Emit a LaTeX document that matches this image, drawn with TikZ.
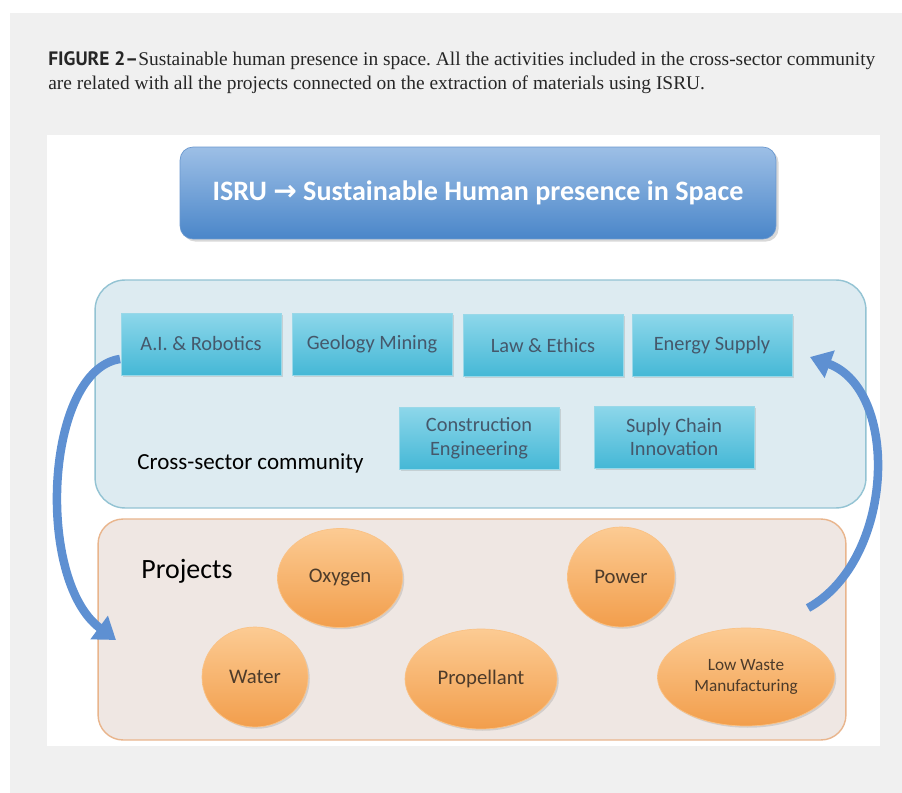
\documentclass[tikz,border=0pt]{standalone}
\usepackage{fontspec}
\setmainfont{Carlito}
\newfontfamily\capserif{Liberation Serif}
\newfontfamily\capsans{PT Sans}
\newfontfamily\arrowfont{DejaVu Sans}
\usetikzlibrary{arrows.meta, shapes.geometric, shadows, positioning}
\frenchspacing

\definecolor{pagegray}{HTML}{F0F0F0}
\definecolor{titletop}{HTML}{9DBFE6}
\definecolor{titlebot}{HTML}{4A86C9}
\definecolor{titleedge}{HTML}{6A98CF}
\definecolor{crossfill}{HTML}{DDEBF1}
\definecolor{crossedge}{HTML}{93C3D3}
\definecolor{tiletop}{HTML}{8DD7EA}
\definecolor{tilebot}{HTML}{45B8D6}
\definecolor{tiletext}{HTML}{45586B}
\definecolor{projfill}{HTML}{EFE7E3}
\definecolor{projedge}{HTML}{E9B58C}
\definecolor{eggtop}{HTML}{FCCB93}
\definecolor{eggbot}{HTML}{F29E4C}
\definecolor{eggtext}{HTML}{4D3B2A}
\definecolor{loopblue}{HTML}{5E90D2}

\tikzset{
  titlebox/.style={draw=titleedge, top color=titletop, bottom color=titlebot, rounded corners=0.26cm,
    minimum width=11.92cm, minimum height=1.84cm, text=white, font=\fontsize{16}{19}\selectfont\bfseries,
    drop shadow={opacity=0.3, shadow xshift=1.5pt, shadow yshift=-1.5pt}},
  crossbox/.style={draw=crossedge, fill=crossfill, rounded corners=0.6cm, line width=0.8pt,
    minimum width=15.42cm, minimum height=4.56cm},
  projbox/.style={draw=projedge, fill=projfill, rounded corners=0.5cm, line width=0.8pt,
    minimum width=14.96cm, minimum height=4.42cm},
  tile/.style={draw=tilebot!55!white, top color=tiletop, bottom color=tilebot, minimum width=3.2cm,
    minimum height=1.24cm, align=center, text=tiletext, font=\fontsize{11.6}{13.5}\selectfont,
    drop shadow={opacity=0.25, shadow xshift=1pt, shadow yshift=-1pt}},
  egg/.style={ellipse, draw=eggtop!80!eggbot, top color=eggtop, bottom color=eggbot, inner sep=0pt,
    align=center, text=eggtext, font=\fontsize{11.8}{14}\selectfont,
    drop shadow={opacity=0.25, shadow xshift=1pt, shadow yshift=-1pt}},
  loop/.style={draw=loopblue, line width=0.17cm, -{Triangle[width=0.56cm,length=0.42cm]}}
}

\begin{document}
\begin{tikzpicture}[x=0.02cm, y=-0.02cm]
  \useasboundingbox (0,0) rectangle (902,793);
  \fill[white] (0,0) rectangle (902,793);
  \fill[pagegray] (10,13) rectangle (902,793);
  \fill[white] (47,135) rectangle (880,746);

  % caption
  \node[anchor=base west, inner sep=0pt, text=black!85, font=\capserif\fontsize{11.05}{13}\selectfont] (capa) at (48,66)
    {{\capsans\bfseries FIGURE 2–}Sustainable human presence in space. All the activities included in the cross-sector community};
  \node[anchor=base west, inner sep=0pt, text=black!85, font=\capserif\fontsize{11.05}{13}\selectfont] (capb) at (48,90)
    {are related with all the projects connected on the extraction of materials using ISRU.};

  % title
  \node[titlebox] (title) at (478,193) {ISRU {\arrowfont\bfseries →} Sustainable Human presence in Space};

  % cross-sector community
  \node[crossbox] (cross) at (480.5,394) {};
  \node[tile] (ai) at (201,344) {A.I. \& Robotics};
  \node[tile] (geo) at (372,344) {Geology Mining};
  \node[tile] (law) at (543,345.5) {Law \& Ethics};
  \node[tile] (energy) at (712,345.5) {Energy Supply};
  \node[tile] (constr) at (479,438) {Construction\\Engineering};
  \node[tile] (supply) at (674,437) {Suply Chain\\Innovation};
  \node[anchor=west, inner sep=0pt, font=\fontsize{13.1}{15}\selectfont] (crosslbl) at (137,463) {Cross-sector community};

  % projects
  \node[projbox] (proj) at (472,629.5) {};
  \node[anchor=west, inner sep=0pt, font=\fontsize{15.9}{18}\selectfont] (projlbl) at (141,571) {Projects};
  \node[egg, minimum width=2.5cm, minimum height=1.98cm] (oxygen) at (340,578) {Oxygen};
  \node[egg, minimum width=2.14cm, minimum height=2cm] (power) at (621,577) {Power};
  \node[egg, minimum width=2.12cm, minimum height=2cm] (water) at (255,677) {Water};
  \node[egg, minimum width=3.04cm, minimum height=2cm] (prop) at (481,679) {Propellant};
  \node[egg, minimum width=3.54cm, minimum height=1.96cm, font=\fontsize{9.8}{11.5}\selectfont] (lowwaste) at (746,677) {Low Waste\\Manufacturing};

  % loops between the two groups
  \coordinate (aitail) at (120,359);
  \coordinate (projin) at (116,640);
  \coordinate (projout) at (808,608);
  \coordinate (energyin) at (810,357);
  \draw[loop] (aitail) .. controls (45,370) and (35,580) .. (projin);
  \draw[loop] (projout) .. controls (895,560) and (900,390) .. (energyin);
\end{tikzpicture}
\end{document}
